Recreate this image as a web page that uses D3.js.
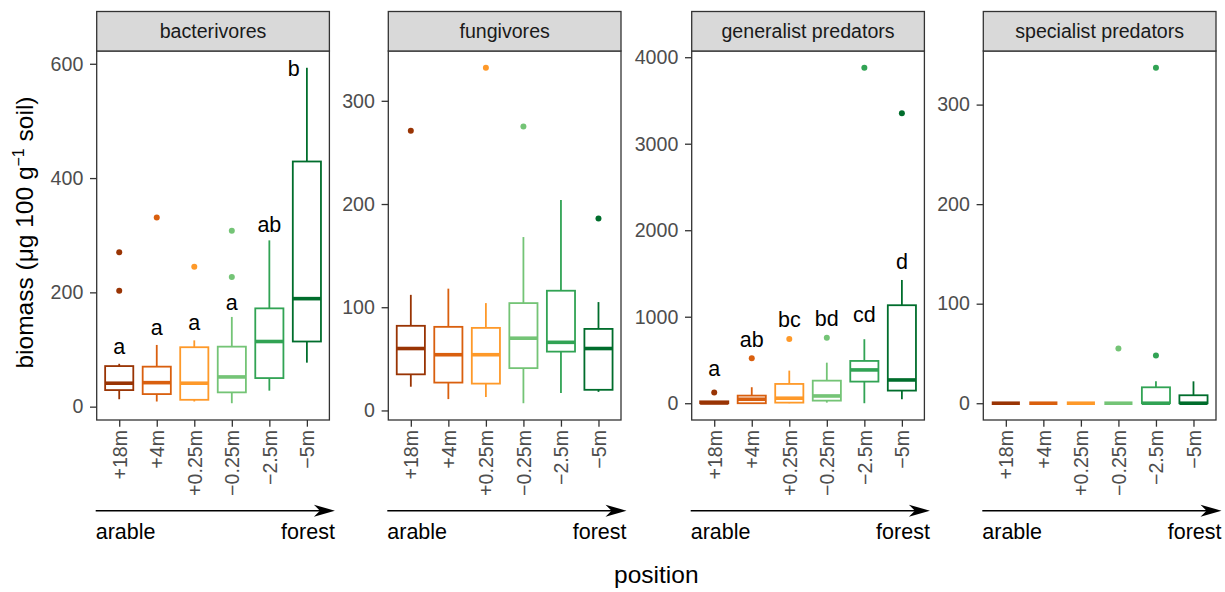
<!DOCTYPE html>
<html>
<head>
<meta charset="utf-8">
<script src="https://cdn.jsdelivr.net/npm/d3@7"></script>
<style>
  body { margin: 0; background: #fff; }
  svg { font-family: "Liberation Sans", Arial, sans-serif; }
</style>
</head>
<body>
<div class="chart"></div>
<script>
// Data
const groups = ['bacterivores', 'fungivores', 'generalist predators', 'specialist predators'];
const positions = ['+18m', '+4m', '+0.25m', '\u22120.25m', '\u22122.5m', '\u22125m'];
const colours = ['#993404', '#D95F0E', '#FE9929', '#74C476', '#31A354', '#006D2C'];

// [lower whisker, q1, median, q3, upper whisker] per position
const bacterivoresStats = [
  [13, 29, 41, 71, 75], [9, 22, 42, 70, 108], [9, 12, 41, 104, 116],
  [6, 25, 52, 105, 157], [28, 50, 114, 172, 291], [77, 114, 189, 429, 593]
];
const bacterivoresOut = [[270, 203], [331], [245], [308, 227], [], []];
const bacterivoresLetters = ['a', 'a', 'a', 'a', 'ab', 'b'];
const bacterivoresLetterAt = [106, 138, 147, 183, 319, 591];

const fungivoresStats = [
  [23, 35, 60, 82, 112], [11, 27, 54, 81, 118], [13, 26, 54, 80, 104],
  [7, 41, 70, 104, 168], [17, 57, 66, 116, 204], [18, 20, 60, 79, 105]
];
const fungivoresOut = [[271], [], [332], [275], [], [186]];

const generalistStats = [
  [0, 0, 3, 22, 22], [0, 0, 46, 88, 185], [0, 7, 58, 223, 377],
  [7, 30, 84, 261, 469], [0, 250, 385, 489, 740], [46, 146, 269, 1133, 1425]
];
const generalistOut = [[123], [520], [743], [758], [3878], [3352]];
const generalistLetters = ['a', 'ab', 'bc', 'bd', 'cd', 'd'];
const generalistLetterAt = [405, 732, 971, 982, 1021, 1637];

const specialistStats = [
  [0, 0, 0, 0, 0], [0, 0, 0, 0, 0], [0, 0, 0, 0, 0],
  [0, 0, 0, 0, 0], [0, 0, 0, 16, 22], [0, 0, 0, 8, 22]
];
const specialistOut = [[], [], [], [55], [337, 48], []];

const yTicks = [[0, 200, 400, 600], [0, 100, 200, 300], [0, 1000, 2000, 3000, 4000], [0, 100, 200, 300]];

const panels = [
  {stats: bacterivoresStats, out: bacterivoresOut, letters: bacterivoresLetters, letterAt: bacterivoresLetterAt},
  {stats: fungivoresStats, out: fungivoresOut},
  {stats: generalistStats, out: generalistOut, letters: generalistLetters, letterAt: generalistLetterAt},
  {stats: specialistStats, out: specialistOut}
];

// Layout
const width = 1225, height = 592;
const panelLeft = [96.7, 388.3, 691.7, 983.3];
const panelW = 232.7;
const stripTop = 11.5, panelTop = 51, panelBottom = 420;
const border = '#333333';

const svg = d3.select('.chart').append('svg')
  .attr('width', width).attr('height', height);

panels.forEach((p, i) => {
  const left = panelLeft[i], right = left + panelW;
  const g = svg.append('g');

  const x = d3.scalePoint().domain(positions).range([left, right]).padding(0.6);
  const boxW = x.step() * 0.75;

  const all = p.stats.flat().concat(p.out.flat());
  const [lo, hi] = d3.extent(all);
  const pad = (hi - lo) * 0.05;
  const y = d3.scaleLinear().domain([lo - pad, hi + pad]).range([panelBottom, panelTop]);

  // panel background
  g.append('rect')
    .attr('x', left).attr('y', panelTop).attr('width', panelW).attr('height', panelBottom - panelTop)
    .attr('fill', '#fff');

  // boxes
  const box = g.selectAll('.box').data(p.stats).join('g').attr('class', 'box');
  box.append('line')
    .attr('x1', (d, j) => x(positions[j])).attr('x2', (d, j) => x(positions[j]))
    .attr('y1', d => y(d[4])).attr('y2', d => y(d[3]))
    .attr('stroke', (d, j) => colours[j]).attr('stroke-width', 1.8);
  box.append('line')
    .attr('x1', (d, j) => x(positions[j])).attr('x2', (d, j) => x(positions[j]))
    .attr('y1', d => y(d[1])).attr('y2', d => y(d[0]))
    .attr('stroke', (d, j) => colours[j]).attr('stroke-width', 1.8);
  box.append('rect')
    .attr('x', (d, j) => x(positions[j]) - boxW / 2).attr('width', boxW)
    .attr('y', d => y(d[3])).attr('height', d => y(d[1]) - y(d[3]))
    .attr('fill', '#fff').attr('stroke', (d, j) => colours[j]).attr('stroke-width', 1.8);
  box.append('line')
    .attr('x1', (d, j) => x(positions[j]) - boxW / 2).attr('x2', (d, j) => x(positions[j]) + boxW / 2)
    .attr('y1', d => y(d[2])).attr('y2', d => y(d[2]))
    .attr('stroke', (d, j) => colours[j]).attr('stroke-width', 3.6);

  // outliers
  const pts = [];
  p.out.forEach((vals, j) => vals.forEach(v => pts.push({j, v})));
  g.selectAll('.out').data(pts).join('circle').attr('class', 'out')
    .attr('cx', d => x(positions[d.j])).attr('cy', d => y(d.v)).attr('r', 3)
    .attr('fill', d => colours[d.j]);

  // significance letters
  if (p.letters) {
    g.selectAll('.letter').data(p.letters).join('text').attr('class', 'letter')
      .attr('x', (d, j) => x(positions[j]) - (p.letterAt[j] < p.stats[j][4] ? x.step() * 0.35 : 0))
      .attr('y', (d, j) => y(p.letterAt[j]))
      .attr('dy', '0.35em')
      .attr('text-anchor', 'middle')
      .style('font-size', '21.5px').style('fill', '#000')
      .text(d => d);
  }

  // border
  g.append('rect')
    .attr('x', left).attr('y', panelTop).attr('width', panelW).attr('height', panelBottom - panelTop)
    .attr('fill', 'none').attr('stroke', border).attr('stroke-width', 1.3);

  // strip
  g.append('rect')
    .attr('x', left).attr('y', stripTop).attr('width', panelW).attr('height', panelTop - stripTop)
    .attr('fill', '#D9D9D9').attr('stroke', border).attr('stroke-width', 1.3);
  g.append('text')
    .attr('x', left + panelW / 2).attr('y', (stripTop + panelTop) / 2).attr('dy', '0.35em')
    .attr('text-anchor', 'middle')
    .style('font-size', '19.6px').style('fill', '#1A1A1A')
    .text(groups[i]);

  // y axis
  const yAxis = d3.axisLeft(y).tickValues(yTicks[i]).tickFormat(d3.format('d'))
    .tickSize(6.7).tickPadding(6.7).tickSizeOuter(0);
  const ya = g.append('g').attr('transform', `translate(${left},0)`).call(yAxis);
  ya.select('.domain').remove();
  ya.selectAll('.tick line').attr('stroke', border).attr('stroke-width', 1.3);
  ya.selectAll('.tick text')
    .style('font-size', '19.6px').style('fill', '#4D4D4D')
    .style('font-family', '"Liberation Sans", Arial, sans-serif');

  // x axis
  const xAxis = d3.axisBottom(x).tickSize(6.7).tickPadding(3.3).tickSizeOuter(0);
  const xa = g.append('g').attr('transform', `translate(0,${panelBottom})`).call(xAxis);
  xa.select('.domain').remove();
  xa.selectAll('.tick line').attr('stroke', border).attr('stroke-width', 1.3);
  xa.selectAll('.tick text')
    .attr('transform', 'rotate(-90)')
    .attr('x', -10).attr('y', 0).attr('dy', '0.35em')
    .attr('text-anchor', 'end')
    .style('font-size', '19.6px').style('fill', '#4D4D4D')
    .style('font-family', '"Liberation Sans", Arial, sans-serif');

  // gradient arrow
  const ay = 510.7, tip = right + 5.5;
  g.append('line')
    .attr('x1', left - 1).attr('x2', tip - 12).attr('y1', ay).attr('y2', ay)
    .attr('stroke', '#000').attr('stroke-width', 1.6);
  g.append('path')
    .attr('d', `M${tip},${ay} L${tip - 21},${ay - 6} L${tip - 15},${ay} L${tip - 21},${ay + 6} Z`)
    .attr('fill', '#000');
  g.append('text').attr('x', left - 1).attr('y', 539)
    .style('font-size', '21.5px').style('fill', '#000').text('arable');
  g.append('text').attr('x', tip).attr('y', 539).attr('text-anchor', 'end')
    .style('font-size', '21.5px').style('fill', '#000').text('forest');
});

// axis titles
svg.append('text')
  .attr('x', (panelLeft[0] + panelLeft[3] + panelW) / 2).attr('y', 583)
  .attr('text-anchor', 'middle')
  .style('font-size', '24.5px').style('fill', '#000')
  .text('position');

const yt = svg.append('text')
  .attr('transform', `translate(33,${(panelTop + panelBottom) / 2 - 3}) rotate(-90)`)
  .attr('text-anchor', 'middle')
  .style('font-size', '24.5px').style('fill', '#000');
yt.append('tspan').text('biomass (\u03bcg 100 g');
yt.append('tspan').attr('dy', -9).style('font-size', '16px').text('\u22121');
yt.append('tspan').attr('dy', 9).text(' soil)');
</script>
</body>
</html>
